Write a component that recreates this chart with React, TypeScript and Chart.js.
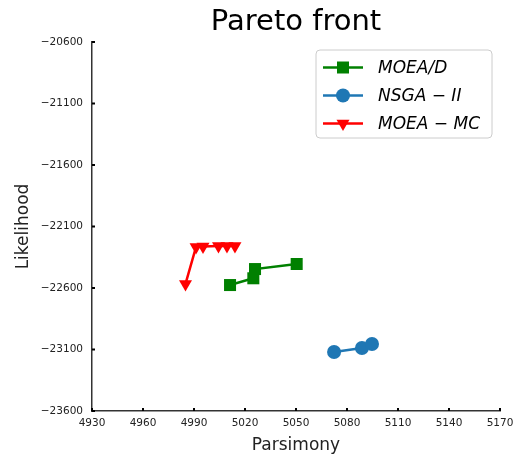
import React, { useEffect, useRef } from "react";
import { Chart, registerables } from "chart.js";

Chart.register(...registerables);

const moeadX = [5011.2, 5024.9, 5025.9, 5050.4];
const moeadY = [-22576, -22521, -22446, -22405];
const nsgaX = [5072.4, 5088.8, 5094.7];
const nsgaY = [-23120, -23088, -23055];
const mcX = [4985, 4991.2, 4995.3, 5004.4, 5009.4, 5014.1];
const mcY = [-22567, -22266, -22262, -22258, -22258, -22258];

const seriesNames = ["MOEA/D", "NSGA \u2212 II", "MOEA \u2212 MC"];
const seriesColors = ["#008000", "#1f77b4", "#ff0000"];
const seriesMarkers = ["rect", "circle", "triangle"];

const xMin = 4930, xMax = 5170, xStep = 30;
const yMin = -23600, yMax = -20600, yStep = 500;

const FONT = "'DejaVu Sans', 'Liberation Sans', sans-serif";

function zip(xs: number[], ys: number[]) {
  return xs.map((x, i) => ({ x, y: ys[i] }));
}

function drawMarker(ctx: CanvasRenderingContext2D, kind: string, x: number, y: number, color: string) {
  ctx.save();
  ctx.fillStyle = color;
  ctx.beginPath();
  if (kind === "rect") {
    ctx.rect(x - 6, y - 6, 12, 12);
  } else if (kind === "circle") {
    ctx.arc(x, y, 7, 0, Math.PI * 2);
  } else {
    const r = 7.5;
    ctx.moveTo(x, y + r);
    ctx.lineTo(x - r * 0.866, y - r * 0.5);
    ctx.lineTo(x + r * 0.866, y - r * 0.5);
    ctx.closePath();
  }
  ctx.fill();
  ctx.restore();
}

const decorPlugin = {
  id: "decor",
  afterDraw(chart: any) {
    const ctx: CanvasRenderingContext2D = chart.ctx;
    const { chartArea } = chart;
    const xs = chart.scales.x;
    const ys = chart.scales.y;
    ctx.save();
    // inner tick marks
    ctx.strokeStyle = "#000";
    ctx.lineWidth = 2;
    xs.ticks.forEach((t: any) => {
      const px = xs.getPixelForValue(t.value);
      ctx.beginPath();
      ctx.moveTo(px, chartArea.bottom);
      ctx.lineTo(px, chartArea.bottom - 3);
      ctx.stroke();
    });
    ys.ticks.forEach((t: any) => {
      const py = ys.getPixelForValue(t.value);
      ctx.beginPath();
      ctx.moveTo(chartArea.left, py);
      ctx.lineTo(chartArea.left + 3, py);
      ctx.stroke();
    });
    // title
    ctx.fillStyle = "#000";
    ctx.font = `29px ${FONT}`;
    ctx.textAlign = "center";
    ctx.textBaseline = "middle";
    ctx.fillText("Pareto front", (chartArea.left + chartArea.right) / 2, 22);
    // legend
    const bx = 316, by = 50, bw = 176, bh = 88, rr = 4;
    ctx.beginPath();
    ctx.moveTo(bx + rr, by);
    ctx.arcTo(bx + bw, by, bx + bw, by + bh, rr);
    ctx.arcTo(bx + bw, by + bh, bx, by + bh, rr);
    ctx.arcTo(bx, by + bh, bx, by, rr);
    ctx.arcTo(bx, by, bx + bw, by, rr);
    ctx.closePath();
    ctx.fillStyle = "rgba(255,255,255,0.8)";
    ctx.fill();
    ctx.strokeStyle = "#cccccc";
    ctx.lineWidth = 1;
    ctx.stroke();
    const rows = [67.5, 95.5, 123.5];
    seriesNames.forEach((name, i) => {
      const y = rows[i];
      ctx.strokeStyle = seriesColors[i];
      ctx.lineWidth = 2.5;
      ctx.beginPath();
      ctx.moveTo(323, y);
      ctx.lineTo(363, y);
      ctx.stroke();
      drawMarker(ctx, seriesMarkers[i], 343, y, seriesColors[i]);
      ctx.fillStyle = "#000";
      ctx.font = `italic 17px ${FONT}`;
      ctx.textAlign = "left";
      ctx.textBaseline = "middle";
      ctx.fillText(name, 378, y + 1);
    });
    ctx.restore();
  },
};

function fmtTick(v: number) {
  return (v < 0 ? "\u2212" : "") + Math.abs(v).toString();
}

export default function App() {
  const ref = useRef<HTMLCanvasElement>(null);
  useEffect(() => {
    if (!ref.current) return;
    const chart = new Chart(ref.current, {
      type: "scatter",
      data: {
        datasets: [
          {
            label: seriesNames[0],
            data: zip(moeadX, moeadY),
            showLine: true,
            borderColor: seriesColors[0],
            backgroundColor: seriesColors[0],
            borderWidth: 2.5,
            pointStyle: "rect",
            pointRadius: 8.5,
            pointBorderWidth: 0,
          },
          {
            label: seriesNames[1],
            data: zip(nsgaX, nsgaY),
            showLine: true,
            borderColor: seriesColors[1],
            backgroundColor: seriesColors[1],
            borderWidth: 2.5,
            pointStyle: "circle",
            pointRadius: 7,
            pointBorderWidth: 0,
          },
          {
            label: seriesNames[2],
            data: zip(mcX, mcY),
            showLine: true,
            borderColor: seriesColors[2],
            backgroundColor: seriesColors[2],
            borderWidth: 2.5,
            pointStyle: "triangle",
            pointRotation: 180,
            pointRadius: 7.5,
            pointBorderWidth: 0,
          },
        ],
      },
      options: {
        responsive: false,
        animation: false,
        layout: { padding: { top: 42, right: 22, left: 0, bottom: 0 } },
        plugins: {
          legend: { display: false },
          title: { display: false },
          tooltip: { enabled: false },
        },
        scales: {
          x: {
            type: "linear",
            min: xMin,
            max: xMax,
            afterFit: (s: any) => {
              s.height = 47;
            },
            ticks: {
              stepSize: xStep,
              padding: 6,
              color: "#222",
              font: { family: FONT, size: 10.5 },
              maxRotation: 0,
              callback: (v: any) => fmtTick(Number(v)),
            },
            grid: { drawOnChartArea: false, drawTicks: false },
            border: { display: true, color: "#333", width: 1.5 },
            title: {
              display: true,
              text: "Parsimony",
              color: "#222",
              font: { family: FONT, size: 17 },
              padding: { top: 0, bottom: 2 },
            },
          },
          y: {
            type: "linear",
            min: yMin,
            max: yMax,
            afterFit: (s: any) => {
              s.width = 92;
            },
            ticks: {
              stepSize: yStep,
              padding: 9,
              color: "#222",
              font: { family: FONT, size: 10.5 },
              callback: (v: any) => fmtTick(Number(v)),
            },
            grid: { drawOnChartArea: false, drawTicks: false },
            border: { display: true, color: "#333", width: 1.5 },
            title: {
              display: true,
              text: "Likelihood",
              color: "#222",
              font: { family: FONT, size: 17 },
              padding: { top: 13, bottom: 0 },
            },
          },
        },
      },
      plugins: [decorPlugin],
    } as any);
    return () => chart.destroy();
  }, []);
  return (
    <div style={{ position: "fixed", left: 0, top: 0, width: 522, height: 458, background: "#fff" }}>
      <canvas ref={ref} width={522} height={458} style={{ display: "block" }} />
    </div>
  );
}
